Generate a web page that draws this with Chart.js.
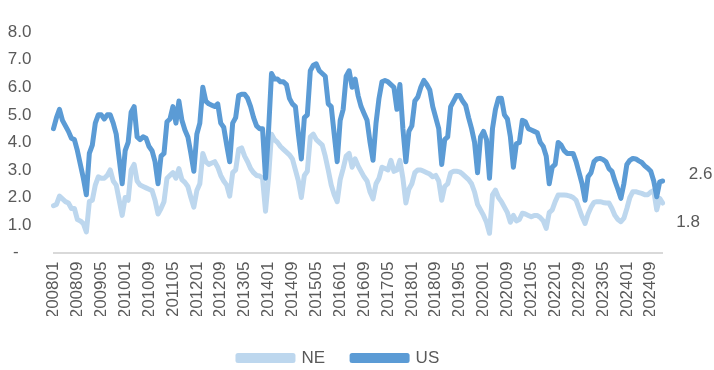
<!DOCTYPE html>
<html>
<head>
<meta charset="utf-8">
<script src="https://cdn.jsdelivr.net/npm/chart.js@4.4.1/dist/chart.umd.min.js"></script>
<style>
  html, body { margin: 0; padding: 0; background: #ffffff; }
  #wrap { width: 714px; height: 370px; position: relative; }
</style>
</head>
<body>
<div id="wrap"><canvas id="chart" width="714" height="370"></canvas></div>
<script>
// Monthly categories, 200801 .. 202501
const firstYear = 2008;
const lastYear = 2025;
const lastMonth = 1;
const months = [];
for (let y = firstYear; y <= lastYear; y++) {
  for (let m = 1; m <= 12; m++) {
    if (y === lastYear && m > lastMonth) break;
    months.push(String(y) + String(m).padStart(2, '0'));
  }
}

// NE series, one value per month
const ne = [
  1.7, 1.75, 2.05, 1.95, 1.85, 1.8, 1.6, 1.6, 1.2, 1.15, 1.05, 0.75,
  1.85, 1.9, 2.45, 2.75, 2.7, 2.7, 2.8, 3.0, 2.6, 2.45, 1.9, 1.35,
  2.0, 1.9, 3.0, 3.2, 2.6, 2.45, 2.4, 2.35, 2.3, 2.25, 1.9, 1.4,
  1.6, 1.85, 2.7, 2.8, 2.9, 2.7, 3.05, 2.65, 2.55, 2.4, 2.0, 1.65,
  2.25, 2.5, 3.6, 3.3, 3.2, 3.25, 3.3, 3.1, 2.8, 2.6, 2.45, 2.05,
  2.9, 3.0, 3.75, 3.8, 3.5, 3.3, 3.05, 2.9, 2.8, 2.78, 2.7, 1.5,
  2.7, 4.3, 4.1, 4.0, 3.85, 3.75, 3.65, 3.55, 3.4, 3.0, 2.6, 2.0,
  2.8, 2.95, 4.2, 4.3, 4.1, 4.0, 3.9, 3.5, 3.0, 2.45, 2.1, 1.85,
  2.65, 3.05, 3.5, 3.6, 3.1, 3.4, 3.15, 2.95, 2.75, 2.6, 2.2, 1.95,
  2.5, 2.7, 3.1, 3.05, 3.0, 3.35, 2.95, 3.0, 3.35, 2.7, 1.8, 2.3,
  2.5, 2.9, 3.0, 3.0, 2.95, 2.9, 2.85, 2.75, 2.8, 2.6, 1.9, 2.4,
  2.5, 2.9, 2.95, 2.95, 2.93, 2.85, 2.75, 2.65, 2.5, 2.2, 1.75, 1.55,
  1.35, 1.1, 0.7, 2.1, 2.27, 2.0, 1.85, 1.65, 1.45, 1.1, 1.35, 1.15,
  1.2, 1.43, 1.4, 1.35, 1.3, 1.35, 1.35, 1.27, 1.15, 0.88, 1.45, 1.55,
  1.85, 2.09, 2.09, 2.09, 2.08, 2.05, 2.0, 1.9, 1.6, 1.3, 1.06, 1.4,
  1.65, 1.82, 1.85, 1.85, 1.82, 1.8, 1.8, 1.6, 1.35, 1.2, 1.12, 1.25,
  1.6, 2.0, 2.21, 2.21, 2.18, 2.15, 2.1, 2.1, 2.2, 2.25, 1.55, 1.97,
  1.8
];

// US series, one value per month
const us = [
  4.5, 4.9, 5.2, 4.8, 4.6, 4.4, 4.15, 4.1, 3.7, 3.2, 2.7, 2.1,
  3.6, 3.9, 4.7, 5.0, 5.0, 4.85, 5.0, 5.0, 4.7, 4.3, 3.4, 2.5,
  3.7, 4.0, 5.1, 5.3, 4.2, 4.1, 4.2, 4.15, 3.85, 3.7, 3.3, 2.5,
  3.5, 3.6, 4.75, 4.85, 5.3, 4.7, 5.5, 4.8, 4.45, 4.2, 3.6, 2.95,
  4.3, 4.7, 6.0, 5.5, 5.4, 5.35, 5.3, 5.4, 4.7, 4.55, 3.9, 3.3,
  4.7, 4.9, 5.7, 5.75, 5.75, 5.6, 5.3, 4.9, 4.6, 4.5, 4.5, 2.7,
  4.4, 6.5, 6.3, 6.3, 6.2, 6.2, 6.1, 5.6, 5.4, 5.3, 4.3, 3.4,
  4.9, 5.0, 6.6, 6.8, 6.85, 6.6, 6.5, 6.4, 5.4, 5.3, 4.3, 3.3,
  4.8, 5.2, 6.4, 6.6, 6.0, 6.3, 5.7, 5.3, 5.05, 4.8, 4.0, 3.35,
  4.7, 5.6, 6.2, 6.25, 6.2, 6.1, 6.0, 5.2, 6.1, 4.5, 3.3, 4.4,
  4.6, 5.5, 5.65, 6.0, 6.25, 6.1, 5.9, 5.3, 4.9, 4.5, 3.2, 4.1,
  4.2, 5.3, 5.5, 5.7, 5.7, 5.5, 5.35, 4.9, 4.5, 4.0, 2.9, 4.2,
  4.4, 4.1, 2.7, 4.5, 5.2, 5.6, 5.6, 5.0, 4.85, 4.2, 3.1, 3.95,
  4.0, 4.8, 4.75, 4.5, 4.45, 4.4, 4.35, 4.0, 3.85, 3.5, 2.5, 3.1,
  3.2, 4.0, 3.9, 3.7, 3.6, 3.6, 3.6, 3.3, 2.9, 2.5, 1.9, 2.75,
  2.9, 3.3, 3.4, 3.42, 3.38, 3.3, 3.05, 2.95, 2.6, 2.3, 1.97, 2.5,
  3.2, 3.35, 3.42, 3.4, 3.33, 3.27, 3.15, 3.06, 2.95, 2.6, 2.03, 2.57,
  2.6
];

// Value axis range and label step; a category label every 8 months
const yMin = 0;
const yMax = 8;
const yStep = 1;
const labelEvery = 8;

const FONT_FAMILY = "'Liberation Sans', Arial, sans-serif";
const TEXT_GREY = '#595959';
const NE_COLOR = '#BDD7EE';
const US_COLOR = '#5B9BD5';

// Writes the latest value just beyond the end of each line
const endValueLabels = {
  id: 'endValueLabels',
  afterDatasetsDraw(chart, args, opts) {
    const ctx = chart.ctx;
    ctx.save();
    ctx.font = opts.size + 'px ' + FONT_FAMILY;
    ctx.fillStyle = TEXT_GREY;
    ctx.textAlign = 'left';
    ctx.textBaseline = 'middle';
    chart.data.datasets.forEach((ds, i) => {
      const meta = chart.getDatasetMeta(i);
      const last = meta.data[meta.data.length - 1];
      const off = opts.offsets[i];
      ctx.fillText(ds.data[ds.data.length - 1].toFixed(1), last.x + off[0], last.y + off[1]);
    });
    ctx.restore();
  }
};

// Moves the legend row slightly after layout
const legendNudge = {
  id: 'legendNudge',
  afterLayout(chart, args, opts) {
    const lg = chart.legend;
    if (lg) {
      lg.top += opts.dy; lg.bottom += opts.dy;
      lg.left += opts.dx; lg.right += opts.dx;
    }
  }
};

new Chart(document.getElementById('chart'), {
  type: 'line',
  data: {
    labels: months,
    datasets: [
      {
        label: 'NE', data: ne, order: 1,
        borderColor: NE_COLOR, backgroundColor: NE_COLOR,
        borderWidth: 5, pointRadius: 0, tension: 0,
        borderJoinStyle: 'round', borderCapStyle: 'round'
      },
      {
        label: 'US', data: us, order: 0,
        borderColor: US_COLOR, backgroundColor: US_COLOR,
        borderWidth: 5, pointRadius: 0, tension: 0,
        borderJoinStyle: 'round', borderCapStyle: 'round'
      }
    ]
  },
  options: {
    responsive: false,
    animation: false,
    devicePixelRatio: 1,
    layout: { padding: { left: 0, right: 51.3, top: 32, bottom: 0 } },
    plugins: {
      tooltip: { enabled: false },
      legend: {
        position: 'bottom',
        labels: {
          boxWidth: 55, boxHeight: 5, padding: 27,
          color: TEXT_GREY,
          font: { family: FONT_FAMILY, size: 17 },
          sort: (a, b) => a.datasetIndex - b.datasetIndex
        }
      },
      endValueLabels: { size: 17, offsets: [[13.5, 19.6], [26, -7]] },
      legendNudge: { dx: 7.25, dy: 6.5 }
    },
    scales: {
      x: {
        type: 'category',
        offset: false,
        grid: { display: false, drawTicks: false },
        border: { display: true, color: '#D9D9D9', width: 2 },
        afterFit: (scale) => { scale.height = 63.4; },
        ticks: {
          autoSkip: false,
          minRotation: 90, maxRotation: 90,
          padding: 9,
          color: TEXT_GREY,
          font: { family: FONT_FAMILY, size: 17 },
          callback: function (value, index) {
            return index % labelEvery === 0 ? months[index] : null;
          }
        }
      },
      y: {
        min: yMin, max: yMax,
        grid: { display: false, drawTicks: false },
        border: { display: false },
        afterFit: (scale) => { scale.width = 53.5; },
        ticks: {
          stepSize: yStep,
          padding: 22,
          color: TEXT_GREY,
          font: { family: FONT_FAMILY, size: 17 },
          callback: (v) => (v === 0 ? '-  \u2009' : v.toFixed(1))
        }
      }
    }
  },
  plugins: [endValueLabels, legendNudge]
});
</script>
</body>
</html>
